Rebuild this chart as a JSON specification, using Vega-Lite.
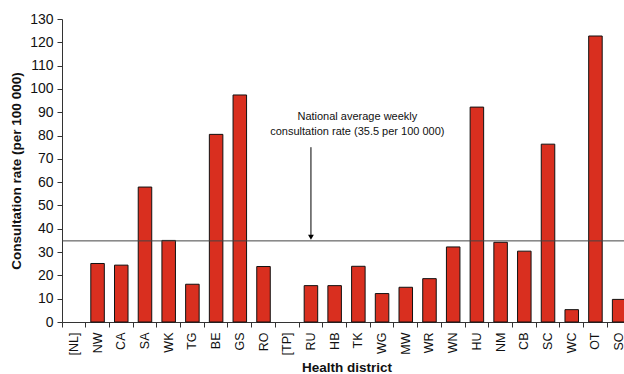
{
  "$schema": "https://vega.github.io/schema/vega-lite/v6.json",
  "width": 569,
  "height": 303,
  "autosize": "none",
  "padding": {"left": 62, "top": 19, "right": 0, "bottom": 52},
  "background": "white",
  "config": {
    "view": {"stroke": null},
    "font": "Liberation Sans",
    "axis": {"domainColor": "#333", "tickColor": "#333", "labelColor": "#111", "titleColor": "#111", "grid": false}
  },
  "encoding": {
    "y": {
      "field": "rate", "type": "quantitative",
      "scale": {"domain": [0, 130], "nice": false},
      "axis": {
        "title": "Consultation rate (per 100 000)", "titleFontSize": 13.5, "titleFontWeight": "bold", "titlePadding": 6,
        "values": [0, 10, 20, 30, 40, 50, 60, 70, 80, 90, 100, 110, 120, 130],
        "labelOverlap": false, "labelFontSize": 14, "labelPadding": 4, "tickSize": 5
      }
    }
  },
  "layer": [
    {
      "data": {"values": [
        {"district": "[NL]", "rate": null},
        {"district": "NW", "rate": 25.1},
        {"district": "CA", "rate": 24.4},
        {"district": "SA", "rate": 57.9},
        {"district": "WK", "rate": 35.0},
        {"district": "TG", "rate": 16.2},
        {"district": "BE", "rate": 80.5},
        {"district": "GS", "rate": 97.4},
        {"district": "RO", "rate": 23.8},
        {"district": "[TP]", "rate": null},
        {"district": "RU", "rate": 15.6},
        {"district": "HB", "rate": 15.6},
        {"district": "TK", "rate": 23.9},
        {"district": "WG", "rate": 12.2},
        {"district": "MW", "rate": 14.9},
        {"district": "WR", "rate": 18.6},
        {"district": "WN", "rate": 32.2},
        {"district": "HU", "rate": 92.2},
        {"district": "NM", "rate": 34.2},
        {"district": "CB", "rate": 30.4},
        {"district": "SC", "rate": 76.3},
        {"district": "WC", "rate": 5.3},
        {"district": "OT", "rate": 122.7},
        {"district": "SO", "rate": 9.7}
      ]},
      "mark": {"type": "bar", "fill": "#D92F1F", "stroke": "#111", "strokeWidth": 1, "width": {"band": 0.57}},
      "encoding": {
        "x": {
          "field": "district", "type": "nominal", "sort": null,
          "scale": {"domain": ["[NL]", "NW", "CA", "SA", "WK", "TG", "BE", "GS", "RO", "[TP]", "RU", "HB", "TK", "WG", "MW", "WR", "WN", "HU", "NM", "CB", "SC", "WC", "OT", "SO"], "paddingInner": 0, "paddingOuter": 0},
          "axis": {
            "title": "Health district", "titleFontSize": 13.5, "titleFontWeight": "bold", "titlePadding": 6,
            "labelAngle": -90, "labelFontSize": 12.5, "labelPadding": 5, "labelBaseline": "middle", "labelAlign": "right",
            "labelOverlap": false, "bandPosition": 0, "tickSize": 5
          }
        }
      }
    },
    {
      "data": {"values": [{"rate": 34.8}]},
      "mark": {"type": "rule", "color": "#444", "strokeWidth": 1},
      "encoding": {}
    },
    {
      "data": {"values": [{"district": "RU", "rate": 75, "rate2": 37}]},
      "mark": {"type": "rule", "color": "#000", "strokeWidth": 1},
      "encoding": {
        "x": {"field": "district", "type": "nominal", "sort": null},
        "y2": {"field": "rate2"}
      }
    },
    {
      "data": {"values": [{"district": "RU", "rate": 36.4}]},
      "mark": {"type": "point", "shape": "triangle-down", "filled": true, "color": "#000", "size": 34, "opacity": 1},
      "encoding": {
        "x": {"field": "district", "type": "nominal", "sort": null}
      }
    },
    {
      "data": {"values": [
        {"district": "TK", "rate": 88.0, "label": "National average weekly"},
        {"district": "TK", "rate": 81.6, "label": "consultation rate (35.5 per 100 000)"}
      ]},
      "mark": {"type": "text", "fontSize": 11, "align": "center", "baseline": "middle", "color": "#111", "dx": -1},
      "encoding": {
        "x": {"field": "district", "type": "nominal", "sort": null},
        "text": {"field": "label"}
      }
    }
  ]
}
